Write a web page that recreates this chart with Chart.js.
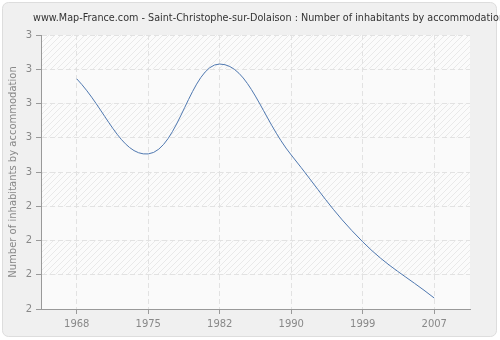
<!DOCTYPE html>
<html>
<head>
<meta charset="utf-8">
<title>Saint-Christophe-sur-Dolaison</title>
<script src="https://cdn.jsdelivr.net/npm/chart.js@4/dist/chart.umd.min.js"></script>
<style>
  html, body { margin: 0; padding: 0; background: #fff; }
  #wrap { width: 500px; height: 340px; position: relative; }
</style>
</head>
<body>
<div id="wrap"><canvas id="chart" width="500" height="340"></canvas></div>
<script>
// census years and average inhabitants per dwelling
const years = ["1968", "1975", "1982", "1990", "1999", "2007"];
const inhabitants = [2.84, 2.566, 2.894, 2.562, 2.245, 2.04];
const yMin = 2;
const yMax = 3;
const yStep = 0.125;

const titleText = "www.Map-France.com - Saint-Christophe-sur-Dolaison : Number of inhabitants by accommodation";
const fontFamily = "'DejaVu Sans', Verdana, sans-serif";

// diagonal hatch used in every other band of the plot
function makeHatch() {
  const c = document.createElement("canvas");
  c.width = 6;
  c.height = 6;
  const g = c.getContext("2d");
  g.fillStyle = "#fbfbfb";
  g.fillRect(0, 0, 6, 6);
  g.strokeStyle = "#e9e9e9";
  g.lineWidth = 1;
  g.beginPath();
  g.moveTo(0, 6);
  g.lineTo(6, 0);
  g.moveTo(-3, 3);
  g.lineTo(3, -3);
  g.moveTo(3, 9);
  g.lineTo(9, 3);
  g.stroke();
  return g.createPattern(c, "repeat");
}

const backdrop = {
  id: "backdrop",
  beforeDraw(chart) {
    const ctx = chart.ctx;
    const a = chart.chartArea;
    const y = chart.scales.y;
    ctx.save();
    // outer panel
    ctx.fillStyle = "#ffffff";
    ctx.fillRect(0, 0, chart.width, chart.height);
    ctx.fillStyle = "#f0f0f0";
    ctx.strokeStyle = "#dddddd";
    ctx.lineWidth = 1;
    ctx.beginPath();
    ctx.roundRect(2.5, 2.5, chart.width - 6, chart.height - 6, 6);
    ctx.fill();
    ctx.stroke();
    // plot bands
    const hatch = makeHatch();
    let i = 0;
    for (let v = yMax; v > yMin + 1e-9; v -= yStep) {
      const top = y.getPixelForValue(v);
      const bot = y.getPixelForValue(v - yStep);
      ctx.fillStyle = i % 2 === 0 ? hatch : "#fafafa";
      ctx.fillRect(a.left, top, a.right - a.left, bot - top);
      i++;
    }
    // title, squeezed a little so it runs to the right edge
    ctx.fillStyle = "#333333";
    ctx.font = "11px " + fontFamily;
    ctx.textBaseline = "middle";
    ctx.textAlign = "left";
    const w = ctx.measureText(titleText).width;
    ctx.translate(33, 18);
    ctx.scale(Math.min(1, 472 / w), 1);
    ctx.fillText(titleText, 0, 0);
    ctx.restore();
  }
};

new Chart(document.getElementById("chart"), {
  type: "line",
  data: {
    labels: years,
    datasets: [{
      data: inhabitants,
      borderColor: "#4f78b0",
      borderWidth: 1,
      pointRadius: 0,
      tension: 0.4,
      fill: false
    }]
  },
  options: {
    responsive: false,
    animation: false,
    layout: { padding: { top: 35, right: 30, left: 0, bottom: 0 } },
    plugins: {
      legend: { display: false },
      tooltip: { enabled: false }
    },
    scales: {
      x: {
        type: "category",
        offset: true,
        afterFit(scale) { scale.height = 31; },
        grid: {
          offset: false,
          color: "#e2e2e2",
          tickColor: "#999999",
          tickLength: 5,
          tickBorderDash: []
        },
        border: { color: "#999999", width: 1, dash: [5, 3] },
        ticks: {
          color: "#888888",
          font: { family: fontFamily, size: 10 },
          padding: 4,
          maxRotation: 0
        }
      },
      y: {
        min: yMin,
        max: yMax,
        afterFit(scale) { scale.width = 41; },
        afterBuildTicks(scale) {
          const t = [];
          for (let v = yMin; v <= yMax + 1e-9; v += yStep) t.push({ value: v });
          scale.ticks = t;
        },
        grid: {
          color: "#e2e2e2",
          tickColor: "#999999",
          tickLength: 5,
          tickBorderDash: []
        },
        border: { color: "#999999", width: 1, dash: [5, 3] },
        ticks: {
          color: "#888888",
          font: { family: fontFamily, size: 10 },
          padding: 4,
          callback: (v) => Math.round(v)
        },
        title: {
          display: true,
          text: "Number of inhabitants by accommodation",
          color: "#888888",
          font: { family: fontFamily, size: 10 },
          padding: { top: 7, bottom: 0 }
        }
      }
    }
  },
  plugins: [backdrop]
});
</script>
</body>
</html>
